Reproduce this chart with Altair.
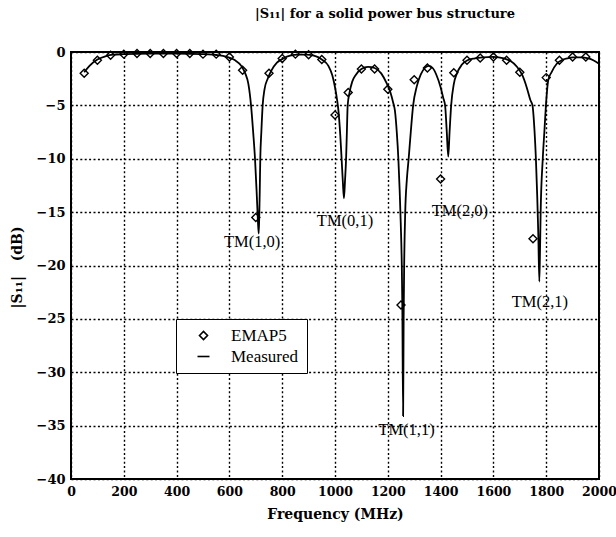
import altair as alt
import pandas as pd

# EMAP5 simulation, sampled every 50 MHz
emap_freq = [50, 100, 150, 200, 250, 300, 350, 400, 450, 500, 550, 600, 650, 700,
             750, 800, 850, 900, 950, 1000, 1050, 1100, 1150, 1200, 1250, 1300,
             1350, 1400, 1450, 1500, 1550, 1600, 1650, 1700, 1750, 1800, 1850,
             1900, 1950]
emap_db = [-2.0, -0.77, -0.3, -0.2, -0.15, -0.15, -0.15, -0.15, -0.15, -0.2, -0.2,
           -0.47, -1.7, -15.5, -2.0, -0.6, -0.2, -0.25, -0.7, -5.9, -3.8, -1.6,
           -1.6, -3.5, -23.7, -2.6, -1.5, -11.9, -1.95, -0.77, -0.56, -0.47,
           -0.77, -1.9, -17.5, -2.4, -0.77, -0.47, -0.47]

# Measured |S11| trace
meas_freq = [50, 70, 100, 130, 160, 200, 300, 400, 500, 550, 590, 620, 645, 660,
             672, 682, 690, 697, 703, 708, 711, 713, 715, 717, 721, 726, 733, 745,
             760, 780, 805, 830, 860, 890, 920, 950, 975, 990, 1000, 1008, 1013,
             1020, 1025, 1030, 1034, 1038, 1042, 1045, 1048, 1055, 1065, 1080,
             1100, 1125, 1150, 1175, 1195, 1210, 1220, 1227, 1234, 1240, 1245,
             1249, 1253, 1255, 1258, 1260, 1262, 1266, 1272, 1279, 1287, 1296,
             1310, 1325, 1340, 1355, 1370, 1385, 1400, 1410, 1417, 1423, 1429,
             1434, 1440, 1450, 1462, 1480, 1500, 1530, 1560, 1600, 1640, 1665,
             1690, 1710, 1726, 1740, 1748, 1756, 1761, 1766, 1770, 1774, 1777,
             1779, 1787, 1793, 1799, 1808, 1820, 1840, 1860, 1880, 1900, 1930,
             1960, 1980, 2000]
meas_db = [-1.9, -1.3, -0.7, -0.4, -0.25, -0.2, -0.15, -0.15, -0.2, -0.28, -0.45,
           -0.75, -1.3, -2.0, -3.0, -5.0, -7.5, -10.0, -13.0, -15.8, -17.0, -15.5,
           -13.0, -10.0, -7.5, -5.0, -3.5, -2.5, -1.7, -1.0, -0.6, -0.35, -0.25,
           -0.25, -0.35, -0.7, -1.3, -2.2, -3.3, -4.5, -5.5, -7.8, -10.0, -12.3,
           -13.7, -12.0, -10.0, -7.5, -5.0, -3.8, -2.8, -2.1, -1.6, -1.4, -1.5,
           -2.0, -2.9, -3.8, -4.7, -5.5, -7.5, -10.0, -13.0, -16.0, -20.0, -23.7,
           -34.1, -25.0, -20.0, -15.0, -12.0, -10.0, -7.5, -5.0, -3.2, -2.1,
           -1.5, -1.3, -1.5, -2.2, -3.3, -4.3, -5.0, -7.3, -9.8, -7.5, -5.0,
           -3.0, -2.0, -1.2, -0.8, -0.6, -0.5, -0.45, -0.6, -0.85, -1.4, -2.2,
           -3.3, -4.5, -5.0, -7.5, -10.0, -13.5, -17.0, -21.5, -18.0, -15.0,
           -10.0, -7.5, -5.0, -2.6, -1.9, -1.1, -0.75, -0.6, -0.5, -0.5, -0.6,
           -0.8, -1.1]

# Resonant mode labels
mode_names = ["TM(1,0)", "TM(0,1)", "TM(1,1)", "TM(2,0)", "TM(2,1)"]
mode_freq = [686, 1038, 1271, 1473, 1776]
mode_db = [-17.8, -15.8, -35.4, -14.9, -23.4]

x_ticks = list(range(0, 2001, 200))
y_ticks = list(range(-40, 1, 5))

SERIF = "Liberation Serif"
BOLD_SERIF = "DejaVu Serif"

emap = pd.DataFrame({"freq": emap_freq, "db": emap_db, "series": "EMAP5"})
meas = pd.DataFrame({"freq": meas_freq, "db": meas_db, "series": "Measured"})
modes = pd.DataFrame({"freq": mode_freq, "db": mode_db, "name": mode_names})

x_enc = alt.X(
    "freq:Q",
    scale=alt.Scale(domain=[0, 2000], nice=False),
    axis=alt.Axis(values=x_ticks, format="d", labelOverlap=False, labelFlush=False,
                  labelFontSize=12.5, title="Frequency (MHz)", titlePadding=10),
)
y_enc = alt.Y(
    "db:Q",
    scale=alt.Scale(domain=[-40, 0], nice=False),
    axis=alt.Axis(values=y_ticks, format="d", labelOverlap=False, labelFlush=False,
                  title="|S₁₁|\u00a0\u00a0\u00a0(dB)", titleX=-54, titleY=215,
                  titleAlign="center", titleBaseline="middle"),
)

line = alt.Chart(meas).mark_line(color="black", strokeWidth=1.8,
                                 interpolate="monotone").encode(x=x_enc, y=y_enc)

points = alt.Chart(emap).mark_point(
    shape="diamond", size=64, filled=False, color="black", strokeWidth=1.4, opacity=1
).encode(
    x="freq:Q",
    y="db:Q",
    shape=alt.Shape(
        "series:N",
        scale=alt.Scale(domain=["EMAP5", "Measured"],
                        range=["diamond", "M-1.5,0L1.5,0"]),
        legend=alt.Legend(
            title=None, orient="none", legendX=105, legendY=267,
            strokeColor="black", padding=8, symbolOffset=11, labelOffset=19,
            labelFont=SERIF, labelFontSize=17, labelColor="black",
            symbolStrokeColor="black", symbolStrokeWidth=1.6, symbolSize=64,
            rowPadding=3, fillColor="white",
        ),
    ),
)

labels = alt.Chart(modes).mark_text(
    font=SERIF, fontSize=16.5, color="black", baseline="middle", align="center"
).encode(x="freq:Q", y="db:Q", text="name:N")

chart = (
    alt.layer(line, points, labels)
    .properties(
        width=528,
        height=427,
        autosize=alt.AutoSizeParams(type="none"),
        padding={"left": 71, "top": 52, "right": 17, "bottom": 58},
        title=alt.TitleParams(
            "|S₁₁| for a solid power bus structure", font=BOLD_SERIF, fontSize=13,
            fontWeight="bold", color="black", dx=50, offset=25, anchor="middle",
        ),
        background="white",
    )
    .configure_view(stroke="black", strokeWidth=2)
    .configure_axis(
        grid=True, gridColor="black", gridDash=[2, 2.4], gridWidth=1.4,
        gridOpacity=1, domain=False, ticks=False,
        labelFont=BOLD_SERIF, labelFontSize=13, labelFontWeight="bold",
        labelColor="black", labelPadding=6,
        titleFont=BOLD_SERIF, titleFontSize=14, titleFontWeight="bold",
        titleColor="black",
    )
)

chart.save("out.html", embed_options={"renderer": "svg", "actions": False})
